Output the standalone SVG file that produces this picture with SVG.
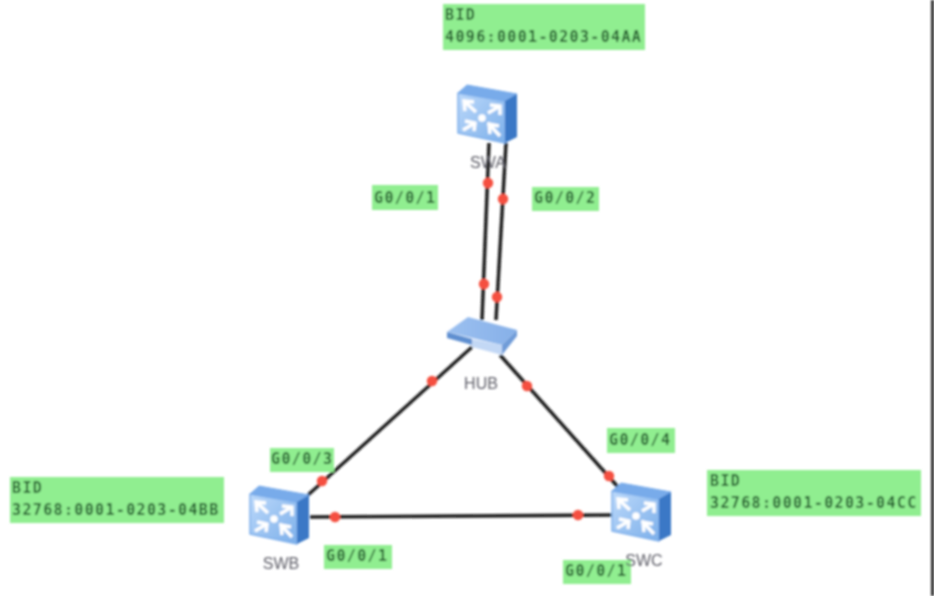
<svg xmlns="http://www.w3.org/2000/svg" width="934" height="596" viewBox="0 0 934 596">
<style>
.lbl{fill:#90ee90}
.t{font-family:"DejaVu Sans Mono","Liberation Mono",monospace;font-size:15px;font-weight:bold;letter-spacing:1.35px;fill:#24602f}
.n{font-family:"Liberation Sans",Arial,sans-serif;font-size:16px;fill:#5e5e68;text-anchor:middle}
.ln{fill:none;stroke:#222;stroke-width:3.6}
.d{fill:#f5503f}
.ch{fill:none;stroke:#fff;stroke-width:3.4;stroke-linejoin:miter}
</style>
<defs>
<filter id="b" filterUnits="userSpaceOnUse" x="0" y="0" width="934" height="596"><feGaussianBlur stdDeviation="1.05"/></filter>
<linearGradient id="f" x1="0" y1="0" x2="1" y2="1"><stop offset="0" stop-color="#bcd9fa"/><stop offset="1" stop-color="#7cafea"/></linearGradient>
<linearGradient id="h" x1="0" y1="0" x2="1" y2="0"><stop offset="0" stop-color="#9cc0f0"/><stop offset="1" stop-color="#86b0e8"/></linearGradient>
<g id="sw">
<polygon points="0,8 47,16 47,58 0,48" fill="url(#f)" stroke="#7fb0ec" stroke-width="1.5" stroke-linejoin="round"/>
<polygon points="0,8 9,0 59,9 47,16" fill="#78abea" stroke="#78abea" stroke-linejoin="round"/>
<polygon points="47,16 59,9 59,52 47,58" fill="#3a78c6"/>
<circle cx="24" cy="33" r="3.8" fill="#fff"/>
<path class="ch" d="M6,16 L18,27 M7,26 L6,16 L16,17"/>
<path class="ch" d="M42,21 L30,28 M42,30 L42,21 L32,20"/>
<path class="ch" d="M17,38 L5,45 M16,46 L17,38 L7,36"/>
<path class="ch" d="M30,38 L42,51 M32,49 L31,39 L41,41"/>
</g>
</defs>
<rect width="934" height="596" fill="#fff"/>
<g filter="url(#b)">
<rect x="931" y="0" width="3" height="596" fill="#2a2a2a"/>
<g id="connectors">
<line class="ln" x1="489" y1="143" x2="482" y2="320"/>
<line class="ln" x1="506" y1="143" x2="496" y2="320"/>
<line class="ln" x1="472" y1="347" x2="308" y2="495"/>
<line class="ln" x1="500" y1="355" x2="618" y2="487"/>
<line class="ln" x1="310" y1="517" x2="612" y2="515"/>
<circle class="d" cx="488" cy="183" r="5.2"/>
<circle class="d" cx="484" cy="284" r="5.2"/>
<circle class="d" cx="503" cy="199" r="5.2"/>
<circle class="d" cx="497" cy="297" r="5.2"/>
<circle class="d" cx="432" cy="381" r="5.2"/>
<circle class="d" cx="322" cy="481" r="5.2"/>
<circle class="d" cx="527" cy="386" r="5.2"/>
<circle class="d" cx="609" cy="476" r="5.2"/>
<circle class="d" cx="335" cy="517" r="5.2"/>
<circle class="d" cx="578" cy="515" r="5.2"/>
</g>
<g id="SWA"><use href="#sw" x="458" y="85"/><text class="n" x="488" y="168">SWA</text></g>
<g id="SWB"><use href="#sw" x="250" y="486"/><text class="n" x="281" y="569">SWB</text></g>
<g id="SWC"><use href="#sw" x="612" y="483"/></g>
<g id="HUB">
<polygon points="447,332 468,317 517,330 502,345" fill="url(#h)"/>
<polygon points="447,332 472,339 472,345 447,338" fill="#5f8fd0"/>
<polygon points="472,339 502,345 502,355 472,347" fill="#c3d8f5"/>
<polygon points="502,345 517,330 517,336 502,355" fill="#6f9bd8"/>
<text class="n" x="481" y="389">HUB</text>
</g>
<g id="label-bid-a"><rect class="lbl" x="443" y="4" width="202" height="46"/><text class="t" x="445" y="20">BID</text><text class="t" x="445" y="42">4096:0001-0203-04AA</text></g>
<g id="label-a1"><rect class="lbl" x="372" y="185" width="66" height="25"/><text class="t" x="374" y="203">G0/0/1</text></g>
<g id="label-a2"><rect class="lbl" x="532" y="187" width="67" height="24"/><text class="t" x="534" y="203">G0/0/2</text></g>
<g id="label-hub3"><rect class="lbl" x="270" y="448" width="64" height="24"/><text class="t" x="271" y="464">G0/0/3</text></g>
<g id="label-hub4"><rect class="lbl" x="607" y="428" width="68" height="25"/><text class="t" x="609" y="445">G0/0/4</text></g>
<g id="label-bid-b"><rect class="lbl" x="10" y="477" width="214" height="46"/><text class="t" x="12" y="493">BID</text><text class="t" x="12" y="515">32768:0001-0203-04BB</text></g>
<g id="label-b1"><rect class="lbl" x="324" y="545" width="68" height="24"/><text class="t" x="326" y="561">G0/0/1</text></g>
<g id="label-bid-c"><rect class="lbl" x="707" y="470" width="214" height="46"/><text class="t" x="710" y="486">BID</text><text class="t" x="710" y="508">32768:0001-0203-04CC</text></g>
<g id="label-c1"><rect class="lbl" x="563" y="560" width="68" height="24"/><text class="t" x="565" y="576">G0/0/1</text></g>
<text class="n" x="644" y="566">SWC</text>
</g>
</svg>
